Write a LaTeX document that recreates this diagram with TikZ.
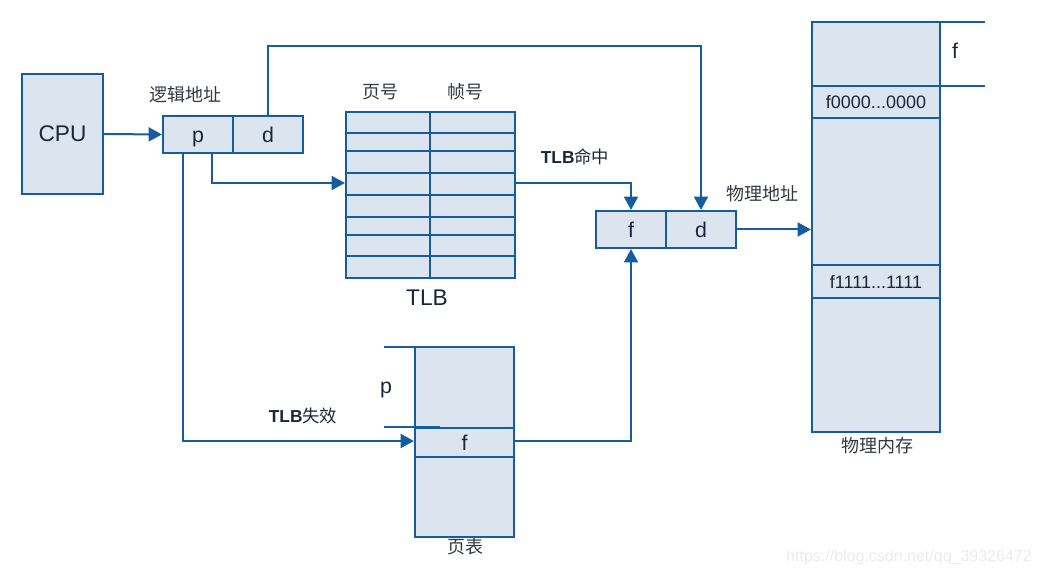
\documentclass[tikz,border=0pt]{standalone}
\usepackage{fontspec}
\setmainfont{Liberation Sans}
\newfontfamily\cjk{Noto Sans CJK SC}
\usetikzlibrary{arrows.meta,fit}
\definecolor{ln}{RGB}{22,92,160}
\definecolor{bx}{RGB}{220,228,240}
\definecolor{tx}{RGB}{25,38,58}
\definecolor{cjtx}{RGB}{50,55,65}
\begin{document}
\begin{tikzpicture}[x=0.75pt,y=-0.75pt,
  box/.style={draw=ln, fill=bx, line width=1.6pt, inner sep=0pt},
  conn/.style={draw=ln, line width=1.5pt},
  arr/.style={conn, -{Triangle[length=10pt,width=10.5pt]}},
  lbl/.style={text=tx, font=\fontsize{16}{16}\selectfont, text height=11.5pt, text depth=0pt, inner sep=0pt},
  big/.style={text=tx, font=\fontsize{17}{17}\selectfont},
  small/.style={text=tx, font=\fontsize{13.5}{14}\selectfont},
  cj/.style={text=cjtx, font=\cjk\fontsize{13.5}{14}\selectfont},
  cjb/.style={text=tx, font=\fontsize{13}{14}\selectfont}]
\useasboundingbox (0,0) rectangle (1040,577);

% CPU
\node[box, fit={(22,74)(103,194)}] (cpu) {};
\node[big] (cputext) at (cpu) {CPU};

% logical address
\node[box, fit={(163,116)(233,153)}] (p) {};
\node[lbl] (ptext) at (p) {p};
\node[box, fit={(233,116)(303,153)}] (d) {};
\node[lbl] (dtext) at (d) {d};
\node[cj] (la) at (185,95) {逻辑地址};

% TLB
\node[box, fit={(346,112)(515,278)}] (tlb) {};
\foreach \yy in {133,151,173,195,217,235,256}
  \draw[ln, line width=1.6pt] (346,\yy) -- (515,\yy);
\draw[ln, line width=1.6pt] (430,112) -- (430,278);
\node[cj] (ph) at (380,92) {页号};
\node[cj] (fh) at (465,92) {帧号};
\node[big] (tlbtext) at (427,298) {TLB};

% physical address
\node[box, fit={(596,211)(666,248)}] (f2) {};
\node[lbl] (f2text) at (f2) {f};
\node[box, fit={(666,211)(736,248)}] (d2) {};
\node[lbl] (d2text) at (d2) {d};
\node[cj] (pa) at (762,194) {物理地址};
\node[cjb] (hit) at (575,157) {\textbf{TLB}{\cjk 命中}};

% physical memory
\node[box, fit={(812,22)(940,432)}] (mem) {};
\node[box, fit={(812,86)(940,118)}] (m0) {};
\node[small] (m0text) at (m0) {f0000...0000};
\node[box, fit={(812,265)(940,298)}] (m1) {};
\node[small] (m1text) at (m1) {f1111...1111};
\draw[ln, line width=1.5pt] (940,22) -- (985,22);
\draw[ln, line width=1.5pt] (940,86) -- (985,86);
\node[lbl] (mf) at (955,51) {f};
\node[cj] (pm) at (877,446) {物理内存};

% page table
\node[box, fit={(415,347)(514,537)}] (pt) {};
\node[box, fit={(415,428)(514,457)}] (ptf) {};
\node[lbl] (ptftext) at (ptf) {f};
\draw[ln, line width=1.5pt] (384,347) -- (444,347);
\draw[ln, line width=1.5pt] (384,427) -- (440,427);
\node[lbl] (pp) at (386,386) {p};
\node[cj] (ptl) at (465,547) {页表};
\node[cjb] (miss) at (303,416) {\textbf{TLB}{\cjk 失效}};

% connectors
\coordinate (c1) at (212,0);
\coordinate (c2) at (183,0);
\coordinate (top) at (0,46);
\coordinate (hy) at (0,183);
\coordinate (my) at (0,441);
\coordinate (fx) at (631,0);
\draw[arr] (cpu.east) -- (p.west);
\draw[arr] (d.north) -- (d.north |- top) -| (d2.north);
\draw[arr] (p.south -| c1) |- (tlb.west |- hy);
\draw[arr] (p.south -| c2) |- (ptf.west |- my);
\draw[arr] (tlb.east |- hy) -| (f2.north -| fx);
\draw[arr] (ptf.east |- my) -| (f2.south -| fx);
\draw[arr] (d2.east) -- (mem.west |- d2.east);

% watermark
\node[text=black!8, font=\fontsize{12}{13}\selectfont] (wm) at (909,557) {https://blog.csdn.net/qq\_39326472};
\end{tikzpicture}
\end{document}
